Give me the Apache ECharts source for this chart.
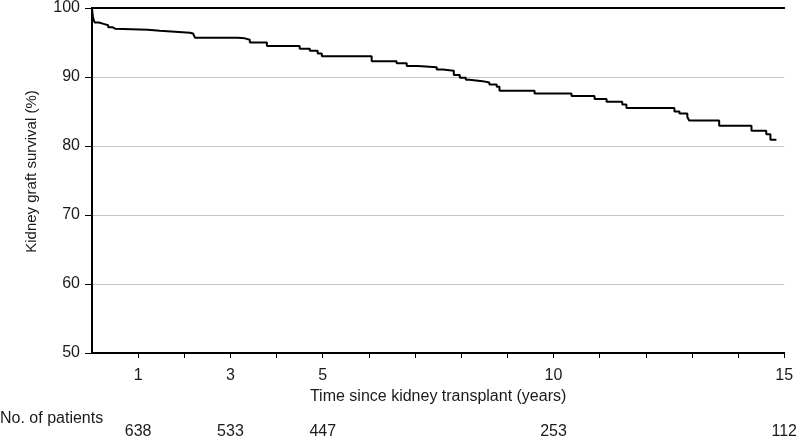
<!DOCTYPE html>
<html>
<head>
<meta charset="utf-8">
<script src="https://cdn.jsdelivr.net/npm/echarts@6/dist/echarts.min.js"></script>
<style>html,body{margin:0;padding:0;background:#fff}#c{width:800px;height:440px}</style>
</head>
<body>
<div id="c"></div>
<script>
// Kaplan-Meier step curve: time (years) and survival (%)
var times = [0, 0.01, 0.02, 0.04, 0.06, 0.15, 0.25, 0.35, 0.45, 0.5,
  1.21, 1.47, 1.80, 2.12, 2.19, 2.23, 3.16, 3.31, 3.42, 3.79,
  4.50, 4.72, 4.89, 4.98, 6.06, 6.60, 6.82, 7.06, 7.47, 7.60,
  7.84, 7.97, 8.10, 8.18, 8.46, 8.61, 8.77, 8.83, 9.59, 10.39,
  10.89, 11.15, 11.49, 11.58, 12.62, 12.73, 12.90, 12.94, 13.59, 14.29,
  14.61, 14.70, 14.83];
var survival = [100, 99.3, 98.7, 98.2, 97.9, 97.7, 97.5, 97.2, 97.0, 96.85,
  96.7, 96.55, 96.4, 96.3, 96.1, 95.7, 95.6, 95.4, 95.0, 94.5,
  94.1, 93.8, 93.4, 93.0, 92.3, 92.0, 91.6, 91.4, 91.1, 90.9,
  90.3, 89.9, 89.6, 89.4, 89.2, 88.9, 88.6, 88.0, 87.6, 87.25,
  86.8, 86.4, 86.0, 85.5, 85.0, 84.7, 84.2, 83.7, 82.95, 82.2,
  81.7, 80.9, 80.9];
var xTickLabels = [1, 3, 5, 10, 15];
var atRiskTimes = [1, 3, 5, 10, 15];
var atRisk = [638, 533, 447, 253, 112];

var points = times.map(function (t, i) { return [t, survival[i]]; });
var txt = '#1a1a1a';
var font = 'Liberation Sans, Arial, sans-serif';
var frameAxis = { show: true, lineStyle: { color: '#000', width: 2 } };

var chart = echarts.init(document.getElementById('c'));
chart.setOption({
  animation: false,
  backgroundColor: '#fff',
  textStyle: { fontFamily: font },
  title: {
    text: 'No. of patients', left: 0, top: 406, padding: [5, 5, 5, 0],
    textStyle: { fontSize: 16, fontWeight: 'normal', color: txt, fontFamily: font }
  },
  grid: { left: 92, right: 15, top: 7, bottom: 84, show: false },
  xAxis: [{
    type: 'value', min: 0, max: 15, interval: 1,
    name: 'Time since kidney transplant (years)', nameLocation: 'middle', nameGap: 35,
    nameTextStyle: { fontSize: 16, color: txt, fontFamily: font },
    axisLine: { show: true, lineStyle: { color: '#000', width: 2 } },
    axisTick: { show: true, length: 5, lineStyle: { color: '#000', width: 1 } },
    splitLine: { show: false },
    axisLabel: {
      fontSize: 16, color: txt, margin: 15, showMinLabel: false, showMaxLabel: true,
      formatter: function (v) { return xTickLabels.indexOf(v) >= 0 ? String(v) : ''; }
    }
  }, {
    type: 'value', min: 0, max: 15, interval: 1, position: 'bottom', offset: 63,
    axisLine: { show: false }, axisTick: { show: false }, splitLine: { show: false },
    axisLabel: {
      fontSize: 16, color: txt, margin: 8, showMinLabel: false, showMaxLabel: true,
      formatter: function (v) { var i = atRiskTimes.indexOf(v); return i >= 0 ? String(atRisk[i]) : ''; }
    }
  }, {
    type: 'value', min: 0, max: 15, position: 'top',
    axisLine: frameAxis, axisTick: { show: false }, axisLabel: { show: false }, splitLine: { show: false }
  }],
  yAxis: [{
    type: 'value', min: 50, max: 100, interval: 10,
    name: 'Kidney graft survival (%)', nameLocation: 'middle', nameGap: 53,
    nameTextStyle: { fontSize: 15, color: txt, fontFamily: font, padding: [0, 0, 0, 18] },
    axisLine: { show: true, lineStyle: { color: '#000', width: 2 } },
    axisTick: { show: true, length: 7, lineStyle: { color: '#000', width: 1 } },
    axisLabel: { fontSize: 16, color: txt, margin: 12 },
    splitLine: { show: true, showMinLine: false, showMaxLine: false, lineStyle: { color: '#c4c4c4', width: 1 } }
  }, {
    type: 'value', min: 50, max: 100, position: 'right',
    axisLine: frameAxis, axisTick: { show: false }, axisLabel: { show: false }, splitLine: { show: false }
  }],
  series: [{
    type: 'line', step: 'end', data: points, showSymbol: false, symbol: 'none',
    lineStyle: { color: '#000', width: 2 }, xAxisIndex: 0, yAxisIndex: 0
  }]
});
</script>
</body>
</html>
